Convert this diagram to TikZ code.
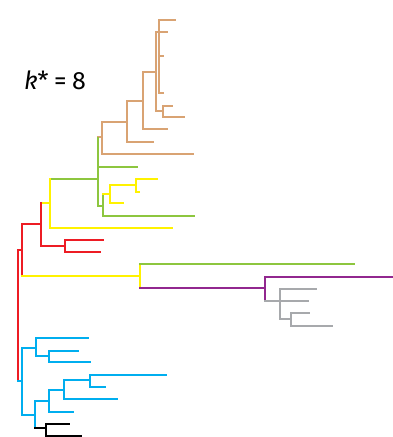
\documentclass[tikz,border=0pt]{standalone}
\usepackage{fontspec}
\setmainfont{Fira Sans}
\definecolor{ctan}{HTML}{D9A373}
\definecolor{cgreen}{HTML}{8DC63F}
\definecolor{cyellow}{HTML}{FFF200}
\definecolor{cred}{HTML}{ED1C24}
\definecolor{cpurple}{HTML}{92278F}
\definecolor{cgray}{HTML}{A7A9AC}
\definecolor{cblue}{HTML}{00AEEF}
\tikzset{
  br/.style={line width=2.9pt, line cap=rect, line join=miter},
  tanb/.style={br, ctan},
  greenb/.style={br, cgreen},
  yellowb/.style={br, cyellow},
  redb/.style={br, cred},
  purpleb/.style={br, cpurple},
  grayb/.style={br, cgray},
  blueb/.style={br, cblue},
  blackb/.style={br, black},
}
\begin{document}
\begin{tikzpicture}[x=1pt,y=-1pt]
\useasboundingbox (0,0) rectangle (392,437);
% label
\node[anchor=base, font=\fontsize{25}{28}\selectfont, inner sep=0pt] (kstar) at (55,89) {\textit{k}*\kern5.5pt=\kern5.5pt8};

% ---- tan clade
\draw[tanb] (102,137) -- (98,137);
\draw[tanb] (193,154) -- (102,154) -- (102,122) -- (127,122);
\draw[tanb] (153,142) -- (127,142) -- (127,101) -- (143,101);
\draw[tanb] (167,129) -- (143,129) -- (143,72) -- (156,72);
\draw[tanb] (167,32) -- (156,32) -- (156,111) -- (163,111);
\draw[tanb] (175,20) -- (159,20) -- (159,93) -- (163,93);
\draw[tanb] (159,56) -- (163,56);
\draw[tanb] (172,106) -- (163,106) -- (163,117) -- (184,117);

% ---- green clade
\draw[greenb] (98,138) -- (98,206) -- (103,206);
\draw[greenb] (98,167) -- (137,167);
\draw[greenb] (103,194) -- (103,216) -- (194,216);
\draw[yellowb] (103,194) -- (110,194);
\draw[yellowb] (136,185) -- (110,185) -- (110,203) -- (123,203);
\draw[yellowb] (157,179) -- (136,179) -- (136,192) -- (139,192);

% ---- upper yellow clade
\draw[greenb] (98,179) -- (50,179);
\draw[yellowb] (50,179) -- (50,228) -- (172,228);
\draw[yellowb] (41,203) -- (50,203);

% ---- red clade
\draw[redb] (18,250) -- (18,381);
\draw[redb] (18,250) -- (22,250);
\draw[redb] (22,224) -- (22,276);
\draw[redb] (22,224) -- (41,224);
\draw[redb] (41,203) -- (41,246) -- (65,246);
\draw[redb] (103,240) -- (65,240) -- (65,252) -- (100,252);

% ---- lower yellow / green / purple / gray
\draw[yellowb] (22,276) -- (140,276);
\draw[yellowb] (140,264) -- (140,288);
\draw[greenb] (140,264) -- (354,264);
\draw[purpleb] (140,288) -- (265,288);
\draw[purpleb] (265,300) -- (265,277) -- (392,277);
\draw[grayb] (265,301) -- (308,301);
\draw[grayb] (316,289) -- (280,289) -- (280,319) -- (291,319);
\draw[grayb] (309,313) -- (291,313) -- (291,326) -- (332,326);

% ---- blue clade
\draw[blueb] (18,381) -- (22,381);
\draw[blueb] (22,348) -- (22,415);
\draw[blueb] (22,348) -- (36,348);
\draw[blueb] (88,338) -- (36,338) -- (36,356) -- (49,356);
\draw[blueb] (78,351) -- (49,351) -- (49,362) -- (90,362);
\draw[blueb] (22,415) -- (35,415);
\draw[blueb] (35,428) -- (35,401) -- (49,401);
\draw[blueb] (73,412) -- (49,412) -- (49,390) -- (64,390);
\draw[blueb] (117,399) -- (64,399) -- (64,380) -- (90,380);
\draw[blueb] (166,375) -- (90,375) -- (90,387) -- (105,387);

% ---- black clade
\draw[blackb] (35,428) -- (46,428);
\draw[blackb] (69,424) -- (46,424) -- (46,436) -- (81,436);
\end{tikzpicture}
\end{document}
